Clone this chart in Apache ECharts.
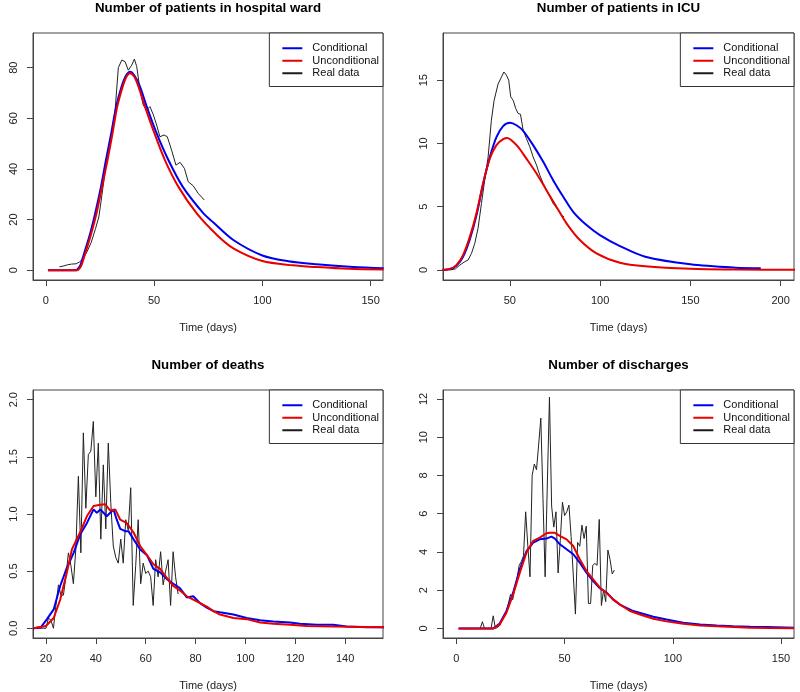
<!DOCTYPE html>
<html>
<head>
<meta charset="utf-8">
<script src="https://cdn.jsdelivr.net/npm/echarts@6/dist/echarts.min.js"></script>
<style>html,body{margin:0;padding:0;background:#fff;}#c{width:800px;height:692px;}</style>
</head>
<body>
<div id="c"></div>
<script>
// ---------- DATA ----------
const titles = ['Number of patients in hospital ward', 'Number of patients in ICU', 'Number of deaths', 'Number of discharges'];
const seriesNames = ['Conditional', 'Unconditional', 'Real data'];
const xName = 'Time (days)';

// Panel 1: hospital ward  [day, value]
const wardCond = [[1,0],[5,0],[10,0],[14,0],[15,0.7],[16,2],[17.7,6.6],[20.5,14.5],[22.8,22.4],[25.5,33],[27.8,43.5],[30.2,54],[32.5,64.6],[35,72.5],[37,76.8],[38.9,78.4],[41,76.8],[43.5,72.5],[46.6,64.6],[51.2,54],[56.6,43.5],[63.2,33],[72.8,22.4],[77.4,18.8],[86.6,11.9],[100,5.8],[112,3.5],[125,2.3],[142,1.2],[156,0.7]];
const wardUncond = [[1,0],[5,0],[10,0],[14.5,0],[15.5,0.6],[16.5,2],[18.2,6.6],[21,14.5],[23.4,22.4],[26,33],[28.5,43.5],[30.8,54],[33,64.6],[35.5,72.5],[37.3,76.5],[38.9,77.8],[40.8,76.5],[42.8,72.5],[45.8,64.6],[50.2,54],[55,43.5],[61.2,33],[69.7,22.4],[78.9,14],[86.6,8.6],[100,3.6],[114,1.9],[125,1.2],[140,0.5],[156,0.2]];
const wardReal = [[6.3,1.3],[8,1.6],[10,2.1],[12,2.4],[14,2.5],[15.5,3.2],[17,4.3],[19,7.2],[21,11],[23,16.5],[24.5,21],[25.5,27],[27.4,39],[28.9,47],[30.5,55],[32,63],[33.5,80],[35.1,83],[36.6,82.4],[38.1,79],[39.7,81],[40.9,83.4],[42,80.4],[43.5,71.2],[45,65.2],[46.6,63.3],[48.1,64.6],[49.7,61.3],[51.2,57.3],[52.7,52.7],[54.6,53.4],[56.1,52.7],[58.1,47.4],[60.1,41.5],[62,42.6],[64,40.2],[65.8,34.9],[68.1,33.3],[70.4,30.3],[73.2,27.7]];
const wardTicksX = [0,50,100,150];
const wardTicksY = [0,20,40,60,80];

// Panel 2: ICU
const icuCond = [[10,0],[16.7,0.06],[20.4,0.33],[24.1,1.05],[27.8,2.4],[31.5,4.3],[35.2,6.8],[38.9,8.9],[42.6,10.5],[46.3,11.37],[50,11.63],[53.7,11.44],[57.4,11.0],[62.9,9.87],[68.5,8.55],[74,7.1],[79.6,5.79],[85.1,4.6],[92.5,3.55],[99.9,2.76],[111,1.89],[125,1.05],[150,0.45],[175,0.18],[189,0.13]];
const icuUncond = [[10,0],[16.7,0.08],[20.4,0.39],[24.1,1.18],[27.8,2.6],[31.5,4.47],[35.2,6.84],[38.9,8.8],[42.6,9.87],[46.3,10.34],[48.7,10.44],[50.9,10.26],[54.6,9.73],[59.2,8.8],[64.8,7.63],[70.3,6.31],[75.8,5.0],[81.4,3.69],[88.8,2.37],[98,1.32],[111,0.58],[125,0.3],[150,0.1],[175,0.04],[210,0.02]];
const icuReal = [[17,0],[20,0.1],[22.3,0.39],[25.1,0.66],[26.9,0.79],[28.8,1.32],[30.6,2.1],[32.4,3.29],[34.3,5.26],[36.1,7.1],[38,8.94],[39.8,11.84],[41.3,13.4],[43.5,14.7],[45.4,15.26],[46.7,15.65],[48.1,15.4],[49.4,15.0],[50.5,13.68],[51.9,13.4],[53.3,12.76],[54.6,12.37],[55.9,12.31],[57.4,11.05],[59.2,10.39],[61.1,9.73],[62.9,8.94],[64.8,8.29],[66.6,7.5],[68.5,6.84],[70.3,6.31],[72.2,5.79],[74,5.26],[76.8,4.74],[78.7,4.34],[80,4.2]];
const icuTicksX = [50,100,150,200];
const icuTicksY = [0,5,10,15];

// Panel 3: deaths
const deathsCond = [[15,0],[18,0.01],[20.4,0.08],[23.1,0.165],[25.7,0.37],[28.4,0.53],[31.1,0.66],[33.7,0.82],[36.4,0.92],[39.1,1.04],[40.4,1.01],[41.8,1.04],[44.4,0.98],[47.1,1.04],[48.4,0.95],[49.8,0.87],[51.8,0.85],[53.1,0.85],[55.1,0.78],[57.8,0.69],[60.5,0.64],[63.1,0.52],[65.8,0.49],[68.5,0.43],[71.1,0.39],[73.8,0.35],[76.5,0.27],[79.1,0.28],[81.8,0.22],[84.5,0.18],[87.2,0.15],[89.8,0.14],[95.2,0.12],[100.5,0.09],[105.9,0.07],[111.2,0.06],[117.9,0.05],[121.9,0.04],[128.6,0.03],[135.2,0.03],[140.6,0.015],[148.6,0.01],[156,0.01]];
const deathsUncond = [[15,0],[20,0.02],[23.1,0.09],[25.7,0.25],[28.4,0.49],[30.4,0.69],[33.7,0.84],[36.4,0.98],[39.1,1.07],[41.8,1.08],[43.8,1.085],[45.8,1.03],[47.8,1.04],[49.8,0.95],[52.4,0.92],[55.1,0.84],[57.8,0.72],[60.5,0.64],[63.1,0.56],[65.8,0.52],[68.5,0.44],[71.1,0.37],[73.8,0.33],[76.5,0.28],[79.1,0.25],[81.8,0.22],[84.5,0.19],[87.2,0.15],[89.8,0.12],[95.2,0.09],[100.5,0.08],[105.9,0.05],[111.2,0.04],[117.9,0.03],[124.6,0.02],[135.2,0.015],[156,0.01]];
const deathsRealDays = [15,16,17,18,19,20,21,22,23,24,25,26,27,28,29,30,31,32,33,34,35,36,37,38,39,40,41,42,43,44,45,46,47,48,49,50,51,52,53,54,55,56,57,58,59,60,61,62,63,64,65,66,67,68,69,70,71,72,73];
const deathsRealVals = [0,0,0,0,0,0,0.09,0.07,0,0.2,0.38,0.29,0.29,0.45,0.66,0.55,0.39,0.7,1.33,0.66,1.71,1.05,1.52,1.55,1.81,1.15,1.62,0.78,1.43,0.87,1.62,1.1,0.72,0.62,0.57,0.78,0.57,0.95,0.86,1.23,0.2,0.55,0.95,0.39,0.57,0.48,0.5,0.45,0.2,0.6,0.45,0.67,0.38,0.5,0.6,0.2,0.67,0.45,0.3];
const deathsTicksX = [20,40,60,80,100,120,140];
const deathsTicksY = [0,0.5,1,1.5,2];
const deathsLabelsY = ['0.0','0.5','1.0','1.5','2.0'];

// Panel 4: discharges
const dischCond = [[1,0],[10,0],[17,0],[20,0.26],[23.1,0.9],[26.2,1.87],[29.3,3.1],[32.4,4.05],[35.5,4.49],[38.5,4.66],[41.6,4.7],[43.9,4.8],[45.5,4.7],[47.8,4.4],[50.9,4.14],[54,3.88],[57,3.44],[60.1,2.92],[63.2,2.48],[66.3,2.1],[69.4,1.87],[72.5,1.5],[75.5,1.25],[81.7,0.91],[91,0.61],[97.1,0.47],[104.8,0.3],[112.6,0.21],[120.3,0.16],[128,0.12],[135.7,0.09],[143.4,0.07],[156,0.03]];
const dischUncond = [[1,0],[10,0],[17,0],[20,0.2],[23.1,0.82],[26.2,1.78],[29.3,2.92],[32.4,3.97],[35.5,4.58],[38.5,4.75],[41.6,4.98],[43.2,5.01],[45.5,5.0],[47.8,4.84],[50.9,4.66],[54,4.31],[57,3.62],[60.1,3.0],[63.2,2.57],[66.3,2.13],[69.4,1.87],[72.5,1.52],[75.5,1.26],[80.2,0.91],[84.8,0.73],[91,0.51],[97.1,0.37],[104.8,0.24],[112.6,0.16],[120.3,0.12],[128,0.07],[135.7,0.03],[143.4,0.02],[156,0.01]];
const dischRealDays = [5,6,7,8,9,10,11,12,13,14,15,16,17,18,19,20,21,22,23,24,25,26,27,28,29,30,31,32,33,34,35,36,37,38,39,40,41,42,43,44,45,46,47,48,49,50,51,52,53,54,55,56,57,58,59,60,61,62,63,64,65,66,67,68,69,70,71,72,73];
const dischRealVals = [0,0,0,0,0,0,0,0.35,0,0,0,0,0.66,0,0.05,0.15,0.45,0.7,0.9,1.3,1.78,1.5,2.1,2.6,3.3,3.5,3.8,6.1,4.3,2.7,8.0,8.6,8.3,9.6,11.0,6.8,2.7,7.5,12.1,6.4,5.3,6.1,2.9,4.6,6.6,5.9,6.1,6.45,4.8,2.8,0.75,4.5,4.3,5.4,4.7,5.35,1.3,1.3,3.3,3.4,3.3,5.7,1.2,2.0,1.4,4.1,3.6,2.85,3.05];
const dischTicksX = [0,50,100,150];
const dischTicksY = [0,2,4,6,8,10,12];

// ---------- LAYOUT / STYLE ----------
const FONT = 'Liberation Sans, Arial, sans-serif';
const C_BLUE = '#0000f0', C_RED = '#e80000', C_BLACK = '#1a1a1a';
const BOX = '#444';

const panels = [
  {grid:{left:33, top:33, width:350, height:247}, x:[-5.9,155.7], y:[-3.9,93.7], tx:wardTicksX, ty:wardTicksY, ly:null,
   cond:wardCond, unc:wardUncond, real:wardReal, smooth:true, titleX:208, titleY:2, legendRight:417, legendTop:33},
  {grid:{left:443, top:33, width:351, height:247}, x:[13,207.4], y:[-0.79,18.73], tx:icuTicksX, ty:icuTicksY, ly:null,
   cond:icuCond, unc:icuUncond, real:icuReal, smooth:true, titleX:618.5, titleY:2, legendRight:6, legendTop:33},
  {grid:{left:33, top:390, width:350, height:248}, x:[14.8,155.2], y:[-0.085,2.085], tx:deathsTicksX, ty:deathsTicksY, ly:deathsLabelsY,
   cond:deathsCond, unc:deathsUncond, real:deathsRealDays.map((d,i)=>[d, deathsRealVals[i]]), smooth:false, titleX:208, titleY:359, legendRight:417, legendTop:390},
  {grid:{left:443, top:390, width:351, height:248}, x:[-6.2,156], y:[-0.5,12.47], tx:dischTicksX, ty:dischTicksY, ly:null,
   cond:dischCond, unc:dischUncond, real:dischRealDays.map((d,i)=>[d, dischRealVals[i]]), smooth:false, titleX:618.5, titleY:359, legendRight:6, legendTop:390}
];

const option = {
  animation: false,
  backgroundColor: '#ffffff',
  title: [], grid: [], xAxis: [], yAxis: [], legend: [], series: []
};

panels.forEach((p, i) => {
  option.title.push({
    text: titles[i], left: p.titleX, top: p.titleY, textAlign: 'center', padding: 0,
    textStyle: {fontSize: 13.3, fontWeight: 'bold', fontFamily: FONT, color: '#000'}
  });
  option.grid.push(Object.assign({show: true, borderColor: BOX, borderWidth: 1, backgroundColor: 'transparent', containLabel: false}, p.grid));
  option.xAxis.push({
    type: 'value', gridIndex: i, min: p.x[0], max: p.x[1],
    name: xName, nameLocation: 'middle', nameGap: 42,
    nameTextStyle: {fontSize: 11, fontFamily: FONT, color: '#222'},
    axisLine: {show: true, onZero: false, lineStyle: {color: BOX}},
    axisTick: {show: true, inside: false, length: 6, customValues: p.tx, lineStyle: {color: BOX}},
    axisLabel: {customValues: p.tx, margin: 15, fontSize: 11, fontFamily: FONT, color: '#222'},
    splitLine: {show: false}
  });
  option.yAxis.push({
    type: 'value', gridIndex: i, min: p.y[0], max: p.y[1],
    axisLine: {show: true, onZero: false, lineStyle: {color: BOX}},
    axisTick: {show: true, inside: false, length: 6, customValues: p.ty, lineStyle: {color: BOX}},
    axisLabel: {customValues: p.ty, rotate: 90, margin: 14, fontSize: 11, fontFamily: FONT, color: '#222',
      formatter: (v) => { if (p.ly) { const k = p.ty.indexOf(v); return k >= 0 ? p.ly[k] : ''; } return String(v); }},
    splitLine: {show: false}
  });
  option.legend.push({
    orient: 'vertical', right: p.legendRight, top: p.legendTop,
    data: seriesNames, icon: 'rect', itemWidth: 20, itemHeight: 2, itemGap: 0,
    selectedMode: false,
    padding: [9, 4, 7, 13], borderColor: '#333', borderWidth: 1, backgroundColor: '#fff',
    textStyle: {fontSize: 11, fontFamily: FONT, color: '#111', lineHeight: 12.5, padding: [0, 0, 0, 5]}
  });
  option.series.push({
    name: seriesNames[2], type: 'line', xAxisIndex: i, yAxisIndex: i, data: p.real,
    symbol: 'none', showSymbol: false, color: C_BLACK, itemStyle: {color: C_BLACK},
    lineStyle: {width: 1, color: '#222'}, z: 2
  });
  option.series.push({
    name: seriesNames[0], type: 'line', xAxisIndex: i, yAxisIndex: i, data: p.cond,
    symbol: 'none', showSymbol: false, smooth: p.smooth ? 0.3 : false, color: C_BLUE, itemStyle: {color: C_BLUE},
    lineStyle: {width: 2, color: C_BLUE}, z: 3
  });
  option.series.push({
    name: seriesNames[1], type: 'line', xAxisIndex: i, yAxisIndex: i, data: p.unc,
    symbol: 'none', showSymbol: false, smooth: p.smooth ? 0.3 : false, color: C_RED, itemStyle: {color: C_RED},
    lineStyle: {width: 2, color: C_RED}, z: 4
  });
});

const chart = echarts.init(document.getElementById('c'), null, {renderer: 'canvas'});
chart.setOption(option);
</script>
</body>
</html>
